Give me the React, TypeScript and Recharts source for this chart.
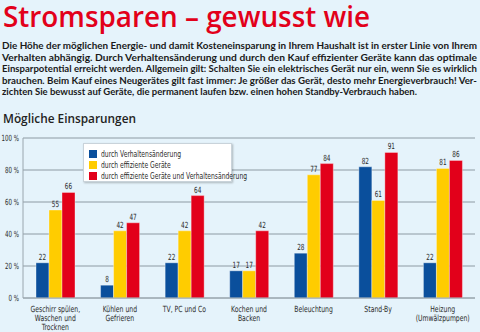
import { BarChart, Bar, XAxis, YAxis, CartesianGrid, LabelList } from 'recharts'

const categories = [
  'Geschirr spülen,\nWaschen und\nTrocknen',
  'Kühlen und\nGefrieren',
  'TV, PC und Co',
  'Kochen und\nBacken',
  'Beleuchtung',
  'Stand-By',
  'Heizung\n(Umwälzpumpen)',
]
const verhalten = [22, 8, 22, 17, 28, 82, 22]
const effizient = [55, 42, 42, 17, 77, 61, 81]
const beides = [66, 47, 64, 42, 84, 91, 86]
const yTicks = [0, 20, 40, 60, 80, 100]

const SERIES = [
  { key: 'verhalten', label: 'durch Verhaltensänderung', color: '#0a4f9c' },
  { key: 'effizient', label: 'durch effiziente Geräte', color: '#ffcc00' },
  { key: 'beides', label: 'durch effiziente Geräte und Verhaltensänderung', color: '#e2001a' },
]

const TEXT_LINES = [
  'Die Höhe der möglichen Energie- und damit Kosteneinsparung in Ihrem Haushalt ist in erster Linie von Ihrem',
  'Verhalten abhängig. Durch Verhaltensänderung und durch den Kauf effizienter Geräte kann das optimale',
  'Einsparpotential erreicht werden. Allgemein gilt: Schalten Sie ein elektrisches Gerät nur ein, wenn Sie es wirklich',
  'brauchen. Beim Kauf eines Neugerätes gilt fast immer: Je größer das Gerät, desto mehr Energieverbrauch! Ver-',
  'zichten Sie bewusst auf Geräte, die permanent laufen bzw. einen hohen Standby-Verbrauch haben.',
]

const data = categories.map((name, i) => ({
  name,
  verhalten: verhalten[i],
  effizient: effizient[i],
  beides: beides[i],
}))

// no narrow font installed, so the condensed look is faked with scaleX
const COND = '"DejaVu Sans Condensed", sans-serif'
const INK = '#2b2b2b'

function CategoryTick({ x, y, payload }: any) {
  const lines = String(payload.value).split('\n')
  return (
    <g transform={`translate(${x},${y + 6}) scale(0.8,1)`}>
      <text x={0} y={0} textAnchor="middle" fontFamily={COND} fontSize={8.5} fill={INK}>
        {lines.map((l, i) => (
          <tspan key={i} x={0} dy={i === 0 ? 0 : 9}>
            {l}
          </tspan>
        ))}
      </text>
    </g>
  )
}

function PercentTick({ x, y, payload }: any) {
  return (
    <g transform={`translate(${x},${y + 3}) scale(0.72,1)`}>
      <text x={0} y={0} textAnchor="end" fontFamily={COND} fontSize={8.5} fill={INK}>
        {`${payload.value} %`}
      </text>
    </g>
  )
}

function ValueLabel({ x, y, width, value }: any) {
  return (
    <g transform={`translate(${x + width / 2},${y - 3}) scale(0.75,1)`}>
      <text x={0} y={0} textAnchor="middle" fontFamily={COND} fontSize={8.5} fill={INK}>
        {value}
      </text>
    </g>
  )
}

export default function App() {
  return (
    <div
      style={{
        position: 'absolute',
        left: 0,
        top: 0,
        width: 480,
        height: 332,
        background: '#e5f3fb',
        overflow: 'hidden',
      }}
    >
      <svg width={480} height={130} style={{ position: 'absolute', left: 0, top: 0 }}>
        <text
          x={3}
          y={27}
          textLength={367}
          lengthAdjust="spacingAndGlyphs"
          fontFamily='"Open Sans", sans-serif'
          fontWeight={600}
          fontSize={29}
          fill="#e2001a"
        >
          Stromsparen – gewusst wie
        </text>
        {TEXT_LINES.map((l, i) => (
          <text
            key={i}
            x={2}
            y={49 + i * 11.5}
            textLength={i < TEXT_LINES.length - 1 ? 475 : 415}
            lengthAdjust="spacingAndGlyphs"
            fontFamily="Lato, sans-serif"
            fontWeight={700}
            fontSize={9.5}
            fill="#1a1a1a"
          >
            {l}
          </text>
        ))}
        <text
          x={3}
          y={123}
          textLength={133}
          lengthAdjust="spacingAndGlyphs"
          fontFamily='"Open Sans", sans-serif'
          fontWeight={600}
          fontSize={12.5}
          fill="#222"
        >
          Mögliche Einsparungen
        </text>
      </svg>
      <div style={{ position: 'absolute', left: 0, top: 128 }}>
        <BarChart
          width={480}
          height={204}
          data={data}
          margin={{ top: 10, right: 5, left: 0, bottom: 0 }}
          barCategoryGap={13}
          barGap={0}
        >
          <CartesianGrid vertical={false} stroke="#8d9aa3" />
          <YAxis
            domain={[0, 100]}
            ticks={yTicks}
            width={23}
            tickLine={false}
            tickSize={2}
            axisLine={{ stroke: '#9aa6ae' }}
            tick={<PercentTick />}
          />
          <YAxis
            yAxisId="r"
            orientation="right"
            width={0}
            domain={[0, 100]}
            tick={false}
            tickLine={false}
            axisLine={{ stroke: '#9aa6ae' }}
          />
          <XAxis
            dataKey="name"
            height={34}
            interval={0}
            tickLine={false}
            axisLine={{ stroke: '#9aa6ae' }}
            tick={<CategoryTick />}
          />
          {SERIES.map((s) => (
            <Bar
              key={s.key}
              dataKey={s.key}
              fill={s.color}
              stroke="#ffffff"
              strokeOpacity={0.45}
              strokeWidth={0.8}
              isAnimationActive={false}
            >
              <LabelList dataKey={s.key} content={<ValueLabel />} />
            </Bar>
          ))}
        </BarChart>
      </div>
      <div
        style={{
          position: 'absolute',
          left: 83,
          top: 143,
          width: 149,
          height: 39,
          background: '#ffffff',
          border: '1px solid #c9d3da',
          boxShadow: '1px 1px 2px rgba(0,0,0,0.25)',
          boxSizing: 'border-box',
          paddingTop: 4,
          paddingLeft: 5,
        }}
      >
        {SERIES.map((s) => (
          <div
            key={s.key}
            style={{ display: 'flex', alignItems: 'center', height: 11, whiteSpace: 'nowrap' }}
          >
            <span
              style={{ width: 8, height: 8, background: s.color, marginRight: 4, flexShrink: 0 }}
            />
            <span
              style={{
                fontFamily: COND,
                fontSize: 8.5,
                color: INK,
                display: 'inline-block',
                transform: 'scaleX(0.79)',
                transformOrigin: 'left center',
              }}
            >
              {s.label}
            </span>
          </div>
        ))}
      </div>
    </div>
  )
}
